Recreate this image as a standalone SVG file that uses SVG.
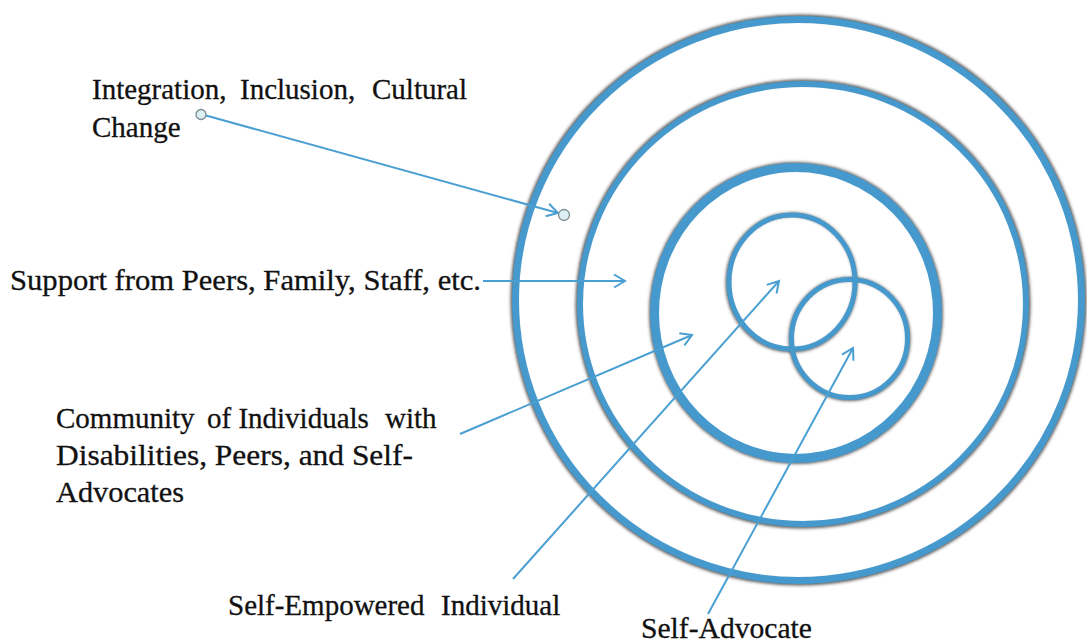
<svg xmlns="http://www.w3.org/2000/svg" width="1087" height="643" viewBox="0 0 1087 643">
  <style>
    .ring { fill: none; stroke: #4699cc; }
    .ring-shadow { fill: none; stroke: #2a2a2a; stroke-opacity: 0.75; }
    .link { fill: none; stroke: #4a9fd2; stroke-width: 2; }
    .dot { fill: #dcf0f3; stroke: #7b8b92; stroke-width: 1.3; }
    .label { font-family: "Liberation Serif", "Times New Roman", serif; font-size: 29px; fill: #111111; stroke: #111111; stroke-width: 0.3; }
  </style>
  <defs>
    <filter id="soft" x="-10%" y="-10%" width="120%" height="120%">
      <feGaussianBlur stdDeviation="1.6"/>
    </filter>
    <marker id="open-arrow" markerWidth="16" markerHeight="16" refX="13" refY="8" orient="auto" markerUnits="userSpaceOnUse">
      <path d="M2,1.5 L13,8 L2,14.5" fill="none" stroke="#4a9fd2" stroke-width="2"/>
    </marker>
  </defs>

  <rect width="1087" height="643" fill="#ffffff"/>

  <!-- soft dark halo along the outer edge of each ring -->
  <g id="ring-shadows" filter="url(#soft)">
    <ellipse class="ring-shadow" cx="798.5" cy="300" rx="285" ry="282.5" stroke-width="6"/>
    <ellipse class="ring-shadow" cx="803" cy="304" rx="225" ry="222" stroke-width="5"/>
    <ellipse class="ring-shadow" cx="796" cy="313" rx="143.5" ry="147.5" stroke-width="7"/>
    <ellipse class="ring-shadow" cx="791.5" cy="282.5" rx="64" ry="68" stroke-width="4"/>
    <ellipse class="ring-shadow" cx="849.5" cy="339" rx="59" ry="60" stroke-width="4"/>
  </g>

  <g id="ring-cultural-change">
    <ellipse class="ring" cx="798.5" cy="300" rx="283" ry="280.5" stroke-width="7"/>
  </g>
  <g id="ring-support">
    <ellipse class="ring" cx="803" cy="304" rx="223" ry="220" stroke-width="6"/>
  </g>
  <g id="ring-community">
    <ellipse class="ring" cx="796" cy="313" rx="141.5" ry="145.5" stroke-width="9"/>
  </g>
  <g id="ring-self-empowered">
    <ellipse class="ring" cx="792" cy="282" rx="63" ry="67" stroke-width="5"/>
  </g>
  <g id="ring-self-advocate">
    <ellipse class="ring" cx="849.5" cy="338.5" rx="58" ry="59" stroke-width="5"/>
  </g>

  <g id="connectors">
    <line class="link" x1="206" y1="115.5" x2="558" y2="213" marker-end="url(#open-arrow)"/>
    <circle class="dot" cx="201" cy="114.5" r="5"/>
    <circle class="dot" cx="564" cy="215" r="5.5"/>
    <line class="link" x1="483" y1="281" x2="625" y2="281" marker-end="url(#open-arrow)"/>
    <line class="link" x1="460" y1="434" x2="692" y2="335" marker-end="url(#open-arrow)"/>
    <line class="link" x1="513" y1="579" x2="779" y2="281" marker-end="url(#open-arrow)"/>
    <line class="link" x1="708" y1="614" x2="853" y2="348" marker-end="url(#open-arrow)"/>
  </g>

  <g id="label-cultural-change">
    <text class="label" y="99"><tspan x="92">Integration,</tspan><tspan x="240">Inclusion,</tspan><tspan x="372">Cultural</tspan></text>
    <text class="label" x="92" y="137">Change</text>
  </g>
  <g id="label-support">
    <text class="label" x="10" y="290" textLength="471" lengthAdjust="spacingAndGlyphs">Support from Peers, Family, Staff, etc.</text>
  </g>
  <g id="label-community">
    <text class="label" y="428"><tspan x="56">Community</tspan><tspan x="207">of Individuals</tspan><tspan x="385">with</tspan></text>
    <text class="label" x="56" y="465" textLength="357" lengthAdjust="spacingAndGlyphs">Disabilities, Peers, and Self-</text>
    <text class="label" x="56" y="502" textLength="128" lengthAdjust="spacingAndGlyphs">Advocates</text>
  </g>
  <g id="label-self-empowered">
    <text class="label" y="615"><tspan x="228">Self-Empowered</tspan><tspan x="441">Individual</tspan></text>
  </g>
  <g id="label-self-advocate">
    <text class="label" x="641" y="638" textLength="171" lengthAdjust="spacingAndGlyphs">Self-Advocate</text>
  </g>
</svg>
